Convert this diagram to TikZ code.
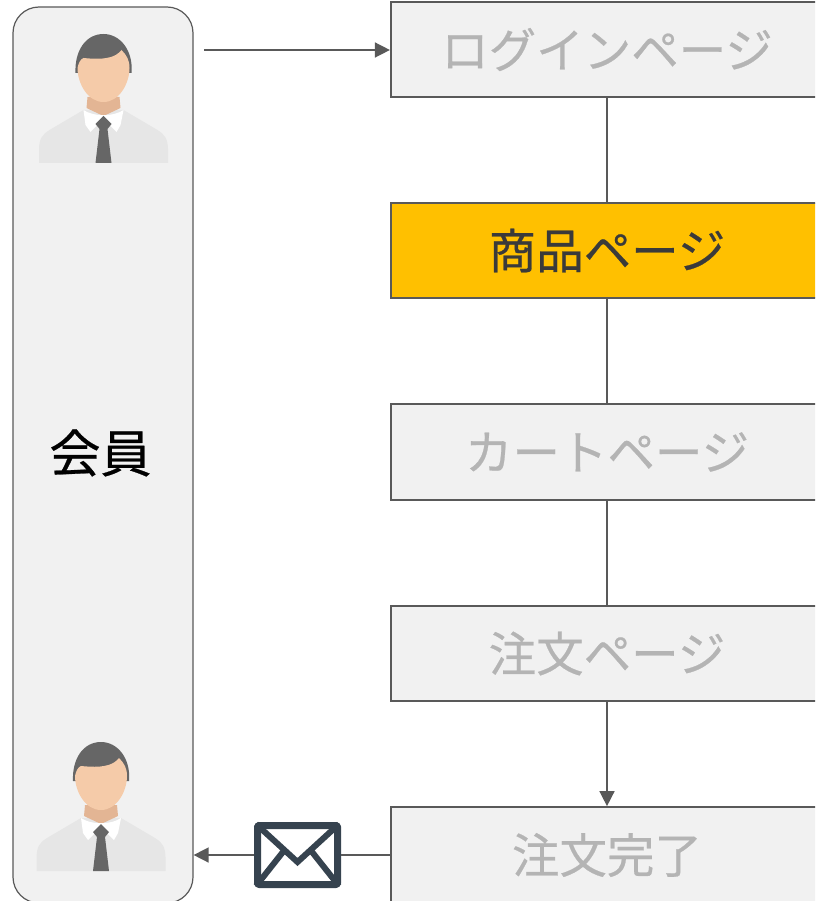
\documentclass[tikz,border=0pt]{standalone}
\usepackage{fontspec}
\setmainfont{Noto Sans CJK JP}[FakeBold=0.5]
\usetikzlibrary{arrows.meta,calc}
\definecolor{boxfill}{HTML}{F1F1F1}
\definecolor{boxline}{HTML}{595959}
\definecolor{mutedtext}{HTML}{B4B4B4}
\definecolor{activefill}{HTML}{FFC000}
\definecolor{activetext}{HTML}{3A3A3A}
\definecolor{maildark}{HTML}{36434F}
\definecolor{skin}{HTML}{F5CBA9}
\definecolor{neck}{HTML}{E3B594}
\definecolor{hair}{HTML}{666666}
\definecolor{suit}{HTML}{E6E6E6}
\tikzset{
  x=1pt,y=-1pt,
  pagebox/.style={draw=boxline,line width=2.2pt,fill=boxfill,minimum width=432pt,minimum height=95.5pt,inner sep=0pt,text=mutedtext,font=\fontsize{47.5}{47.5}\selectfont},
  activebox/.style={pagebox,fill=activefill,text=activetext},
  memberbox/.style={draw=boxline,line width=1.2pt,fill=boxfill,rounded corners=26pt,minimum width=180pt,minimum height=896pt,inner sep=0pt},
  memberlabel/.style={inner sep=0pt,text=black,font=\fontsize{51}{51}\selectfont},
  link/.style={draw=boxline,line width=1.5pt},
  tiplink/.style={link,-{Triangle[width=15pt,length=15pt]}},
  mailbox/.style={draw=maildark,line width=7pt,fill=white,rounded corners=2pt,minimum width=80pt,minimum height=59pt,inner sep=0pt},
  mailstroke/.style={draw=maildark,line width=6pt},
  person/.pic={
    \fill[suit] (-64.5,0) -- (-64.5,-14) .. controls (-64,-24) and (-62,-28) .. (-54,-33) -- (-20,-53) -- (20,-53) -- (54,-33) .. controls (62,-28) and (64,-24) .. (64.5,-14) -- (64.5,0) -- cycle;
    \fill[neck] (-16,-66) -- (16,-66) -- (17,-55) -- (0,-47) -- (-17,-55) -- cycle;
    \fill[white] (-20,-53) .. controls (-10,-46) and (10,-46) .. (20,-53) -- (17,-38) -- (13,-31) -- (0,-44) -- (-13,-31) -- (-18,-38) -- cycle;
    \fill[hair] (-8,-39) -- (0,-47) -- (8,-39) -- (4,-34) -- (8,0) -- (-8,0) -- (-4,-34) -- cycle;
    \fill[hair] (-28,-90) .. controls (-29,-112) and (-18,-129) .. (0,-129) .. controls (17,-129) and (30,-112) .. (28,-90) -- cycle;
    \fill[skin] (-26,-95) .. controls (-25,-100) and (-23,-104) .. (-20,-105) .. controls (-10,-104) and (-2,-104) .. (3,-105) .. controls (10,-106) and (15,-109) .. (18,-113) .. controls (23,-108) and (26,-103) .. (26,-95) .. controls (26,-80) and (16,-61) .. (0,-61) .. controls (-16,-61) and (-26,-80) .. (-26,-95) -- cycle;
  }
}
\begin{document}
\begin{tikzpicture}
\useasboundingbox (0,0) rectangle (815,901);
\clip (0,0) rectangle (815,901);
\node[memberbox] (member) at (103,455) {};
\node[memberlabel] (memberText) at (100.5,453) {会員};
\pic at (103.5,163) {person};
\pic at (101,871) {person};
\node[pagebox] (login) at (607,49.5) {ログインページ};
\node[activebox] (product) at (607,250.5) {商品ページ};
\node[pagebox] (cart) at (607,452) {カートページ};
\node[pagebox] (order) at (607,653.5) {注文ページ};
\node[pagebox] (done) at (607,855) {注文完了};
\node[mailbox] (mail) at (297.5,855) {};
\coordinate (start) at (204,50);
\draw[tiplink] (start) -- (start -| login.west);
\draw[link] (login) -- (product);
\draw[link] (product) -- (cart);
\draw[link] (cart) -- (order);
\draw[tiplink] (order) -- (done);
\draw[link] (done.west) -- (mail.east);
\draw[tiplink] (mail.west) -- (mail -| member.east);
\draw[mailstroke] ($(mail.north west)+(2,2)$) -- ($(mail.center)+(0,7)$) -- ($(mail.north east)+(-2,2)$);
\draw[mailstroke] ($(mail.south west)+(2,-2)$) -- ($(mail.center)+(-13,-5)$);
\draw[mailstroke] ($(mail.south east)+(-2,-2)$) -- ($(mail.center)+(13,-5)$);
\end{tikzpicture}
\end{document}
